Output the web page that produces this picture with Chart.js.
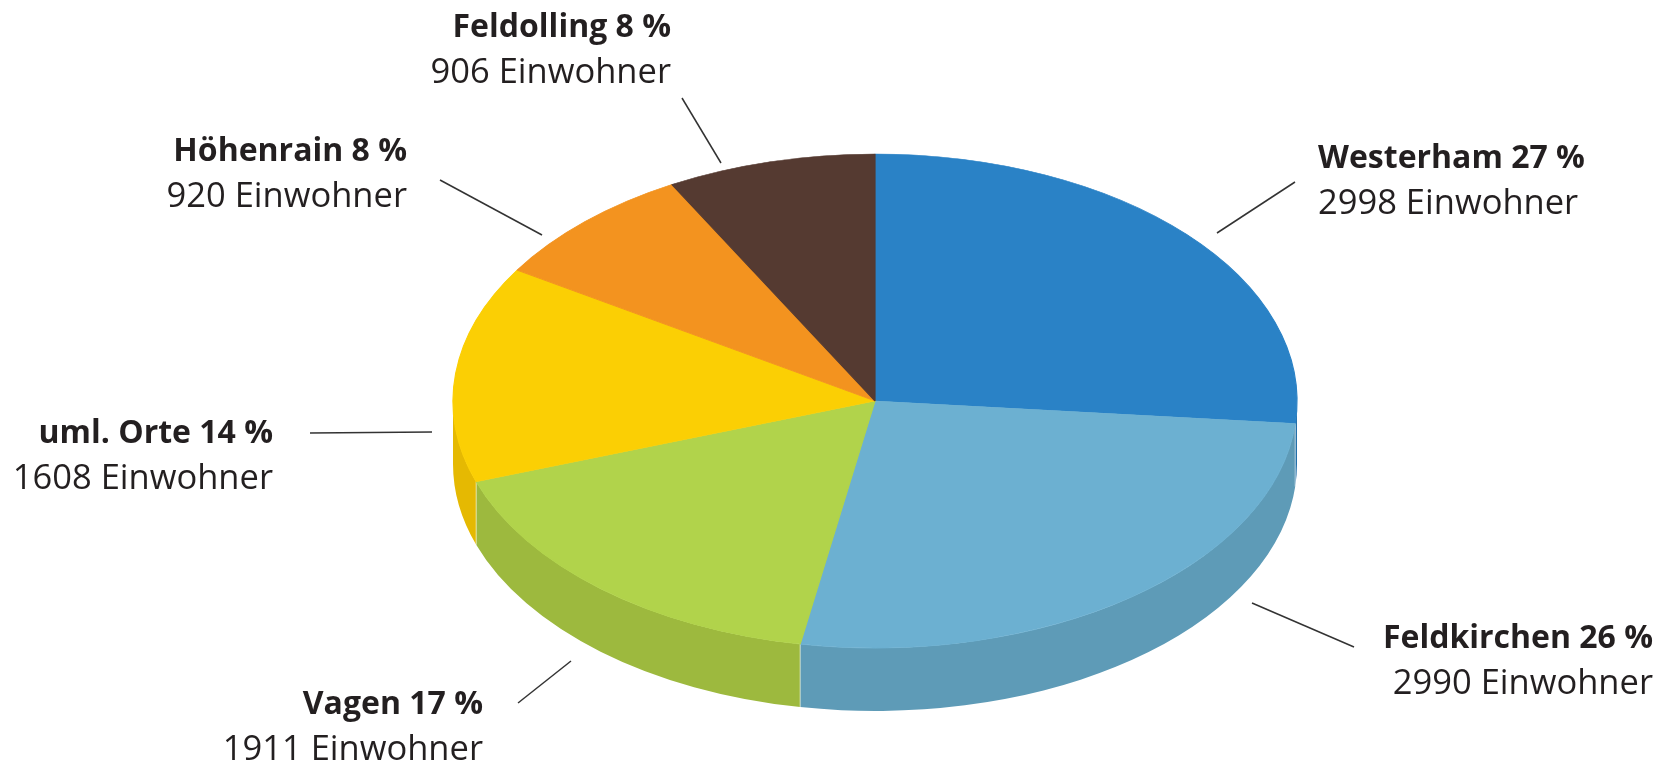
<!DOCTYPE html>
<html>
<head>
<meta charset="utf-8">
<script src="https://cdn.jsdelivr.net/npm/chart.js@4.4.1/dist/chart.umd.min.js"></script>
<style>
  html, body { margin: 0; padding: 0; background: #fff; }
  #wrap { width: 1662px; height: 764px; }
</style>
</head>
<body>
<div id="wrap"><canvas id="graph" width="1662" height="764"></canvas></div>
<script>
// Daten
const orte = ['Westerham', 'Feldkirchen', 'Vagen', 'uml. Orte', 'Höhenrain', 'Feldolling']
const einwohner = [2998, 2990, 1911, 1608, 920, 906]
const prozent = [27, 26, 17, 14, 8, 8]

// Farben: Oberseite und Seitenwand
const farben = ['#2a82c6', '#6cb0d1', '#b1d34b', '#fbcf04', '#f3931f', '#553a31']
const seiten = ['#2270a9', '#5e9bb7', '#9db93e', '#e5b902', '#d98018', '#3f2b24']

// Beschriftung: Textanker und Linie (x1, y1, x2, y2)
const beschriftung = [
  { x: 1318, y: 168, align: 'left',  linie: [1217, 233, 1295, 182] },
  { x: 1653, y: 648, align: 'right', linie: [1252, 603, 1354, 647] },
  { x: 483,  y: 714, align: 'right', linie: [571, 661, 518, 703] },
  { x: 273,  y: 443, align: 'right', linie: [310, 433, 432, 432] },
  { x: 407,  y: 161, align: 'right', linie: [440, 180, 542, 235] },
  { x: 671,  y: 37,  align: 'right', linie: [682, 98, 721, 163] }
]

// 3D-Kuchen: Ellipse + Seitenwand
const kuchen3d = {
  id: 'kuchen3d',
  beforeDatasetsDraw(chart, args, opts) {
    const ctx = chart.ctx
    const arcs = chart.getDatasetMeta(0).data
    if (!arcs.length) return
    const { x, y, outerRadius } = arcs[0].getProps(['x', 'y', 'outerRadius'])
    const rx = opts.rx, ry = opts.ry, d = opts.tiefe

    ctx.save()
    arcs.forEach((arc, i) => {
      const p = arc.getProps(['startAngle', 'endAngle'])
      const a0 = Math.max(p.startAngle, 0)
      const a1 = Math.min(p.endAngle, Math.PI)
      if (a1 <= a0) return
      ctx.beginPath()
      ctx.ellipse(x, y, rx, ry, 0, a0, a1)
      ctx.lineTo(x + rx * Math.cos(a1), y + ry * Math.sin(a1) + d)
      ctx.ellipse(x, y + d, rx, ry, 0, a1, a0, true)
      ctx.closePath()
      ctx.fillStyle = seiten[i]
      ctx.fill()
      // helle Kante an der Segmentgrenze
      if (p.startAngle > 0 && p.startAngle < Math.PI) {
        const ex = x + rx * Math.cos(p.startAngle), ey = y + ry * Math.sin(p.startAngle)
        ctx.beginPath()
        ctx.moveTo(ex, ey)
        ctx.lineTo(ex, ey + d)
        ctx.strokeStyle = 'rgba(255,255,255,0.35)'
        ctx.lineWidth = 1.5
        ctx.stroke()
      }
    })
    ctx.restore()

    // Oberseite gestaucht zeichnen
    ctx.save()
    ctx.translate(x, y)
    ctx.scale(rx / outerRadius, ry / outerRadius)
    ctx.translate(-x, -y)
  },
  afterDatasetsDraw(chart) {
    chart.ctx.restore()
  },
  afterDraw(chart) {
    const ctx = chart.ctx
    ctx.save()
    ctx.fillStyle = '#231f20'
    ctx.strokeStyle = '#333'
    ctx.lineWidth = 1.5
    beschriftung.forEach((b, i) => {
      const [x1, y1, x2, y2] = b.linie
      ctx.beginPath()
      ctx.moveTo(x1, y1)
      ctx.lineTo(x2, y2)
      ctx.stroke()
      ctx.textAlign = b.align
      ctx.textBaseline = 'alphabetic'
      ctx.font = 'bold 32px "Open Sans"'
      ctx.fillText(orte[i] + ' ' + prozent[i] + ' %', b.x, b.y)
      ctx.font = '34.5px "Open Sans"'
      ctx.fillText(einwohner[i] + ' Einwohner', b.x, b.y + 46)
    })
    ctx.restore()
  }
}

new Chart(document.querySelector('#graph'), {
  type: 'pie',
  data: {
    labels: orte,
    datasets: [{
      data: einwohner,
      backgroundColor: farben,
      borderColor: farben,
      borderWidth: 1,
      hoverOffset: 0,
      clip: false
    }]
  },
  options: {
    responsive: false,
    devicePixelRatio: 1,
    animation: false,
    layout: { padding: { left: 515, right: 427, top: 41, bottom: 3 } },
    plugins: {
      legend: { display: false },
      tooltip: { enabled: false },
      kuchen3d: { rx: 422, ry: 247, tiefe: 63 }
    }
  },
  plugins: [kuchen3d]
})
</script>
</body>
</html>
